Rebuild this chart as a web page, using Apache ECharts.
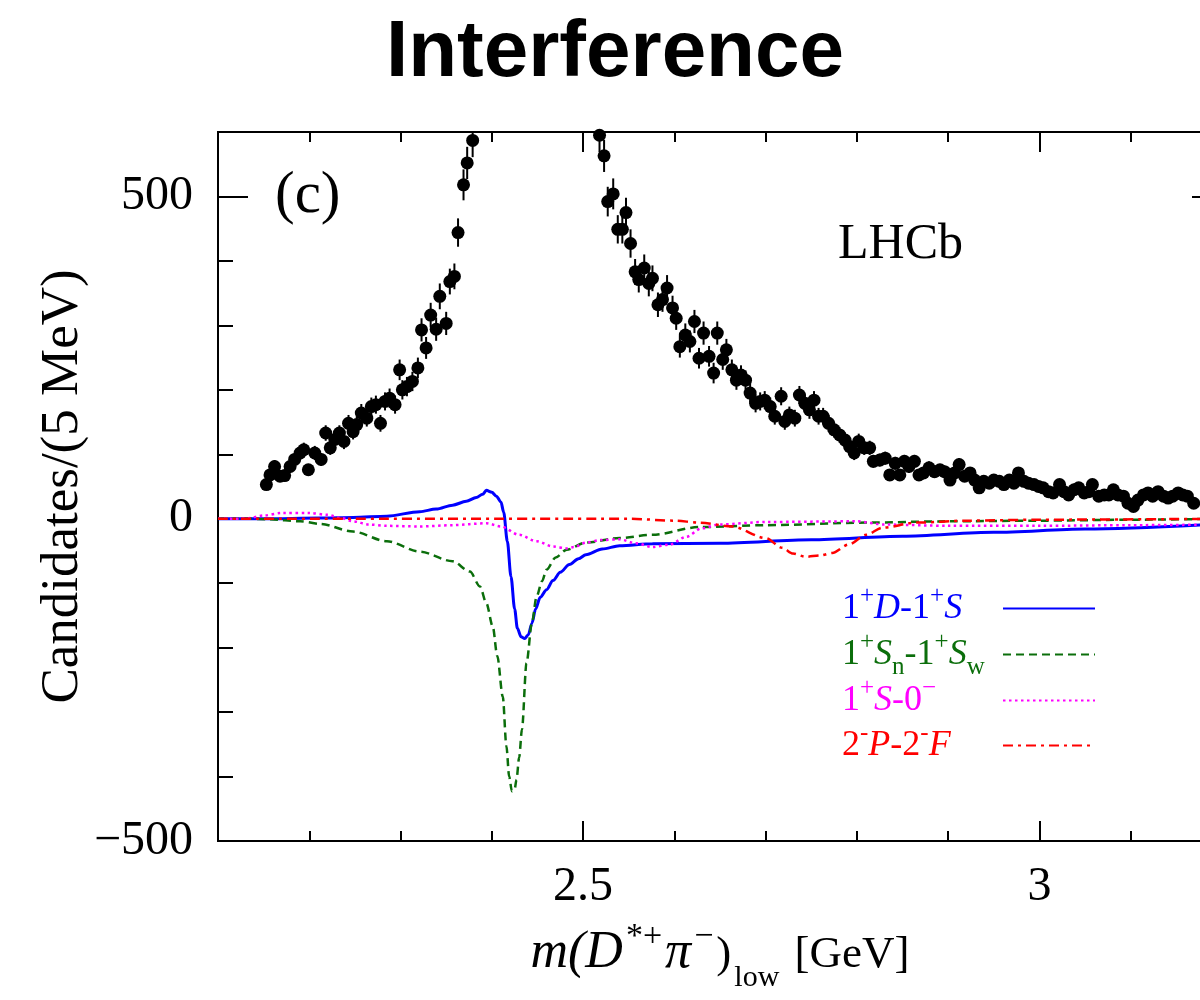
<!DOCTYPE html>
<html><head><meta charset="utf-8">
<script src="https://cdn.jsdelivr.net/npm/echarts@6/dist/echarts.min.js"></script>
<style>html,body{margin:0;padding:0;background:#fff}#c{width:1200px;height:1000px}</style>
</head><body><div id="c"></div>
<script>
// ---------- axes ----------
const xMin = 2.1, xMax = 3.2, xMinorStep = 0.1;
const xMajorTicks = [2.5, 3];
const yMin = -500, yMax = 600, yMinorStep = 100;
const yMajorTicks = [-500, 0, 500];

// ---------- data points (left of the peak) ----------
const massL = [2.153,2.157,2.162,2.168,2.173,2.179,2.184,2.190,2.194,2.199,
  2.206,2.213,2.218,2.223,2.228,2.233,2.238,2.243,2.248,2.252,
  2.257,2.263,2.268,2.273,2.278,2.283,2.288,2.294,2.299,2.302,
  2.307,2.313,2.319,2.323,2.328,2.333,2.339,2.343,2.350,2.354,
  2.359,2.363,2.369,2.373,2.379];
const countsL = [53,68,81,66,67,81,92,102,107,76,
  102,92,133,110,123,133,120,148,135,146,
  164,156,174,177,148,182,187,177,231,200,
  205,213,234,293,265,316,294,345,303,368,
  376,444,518,552,587];
const errL = [8,9,10,9,9,10,10,11,11,9,
  11,10,12,11,12,12,12,13,12,13,
  14,13,14,14,13,14,15,14,16,15,
  15,15,16,18,17,19,18,20,18,20,
  20,22,24,25,26];

// ---------- data points (right of the peak) ----------
const massR = [2.518,2.523,2.527,2.533,2.538,2.543,2.547,2.552,2.557,2.561,
  2.567,2.572,2.576,2.582,2.587,2.592,2.598,2.602,2.606,2.612,
  2.617,2.622,2.627,2.632,2.638,2.643,2.647,2.653,2.657,2.663,
  2.668,2.673,2.678,2.683,2.689,2.694,2.699,2.705,2.710,2.717,
  2.721,2.726,2.732,2.737,2.743,2.748,2.753,2.758,2.763,2.769,
  2.775,2.781,2.787,2.792,2.797,2.802,2.808,2.814,2.818,2.825,
  2.831,2.836,2.842,2.847,2.852,2.857,2.863,2.868,2.873,2.879,
  2.885,2.891,2.896,2.902,2.907,2.912,2.918,2.924,2.929,2.934,
  2.939,2.945,2.950,2.956,2.961,2.967,2.972,2.977,2.983,2.988,
  2.994,2.999,3.004,3.010,3.015,3.022,3.027,3.032,3.038,3.043,
  3.049,3.054,3.058,3.065,3.071,3.076,3.081,3.086,3.092,3.097,
  3.103,3.108,3.114,3.119,3.124,3.130,3.136,3.141,3.146,3.152,
  3.157,3.162,3.169];
const countsR = [595,563,492,504,449,449,475,427,383,371,
  389,365,373,332,340,358,327,311,267,285,
  275,306,249,288,252,226,288,247,262,231,
  215,223,215,195,179,182,184,174,159,190,
  151,161,156,192,179,169,184,159,159,148,
  138,130,122,112,102,120,110,110,89,91,
  94,68,86,68,89,81,89,68,71,79,
  73,76,73,60,71,84,66,71,60,48,
  58,55,60,58,53,60,55,71,58,55,
  53,50,48,42,40,53,42,37,45,48,
  40,42,53,35,37,37,45,37,35,24,
  19,29,37,40,35,42,35,32,35,40,
  37,35,24];
const errR = [26,25,23,24,22,22,23,22,20,20,
  21,20,20,19,19,20,19,18,17,18,
  17,18,16,18,16,16,18,16,17,16,
  15,15,15,15,14,14,14,14,13,14,
  13,13,13,14,14,14,14,13,13,13,
  12,12,12,11,11,12,11,11,10,10,
  10,9,10,9,10,10,10,9,9,10,
  9,9,9,8,9,10,9,9,8,8,
  8,8,8,8,8,8,8,9,8,8,
  8,8,8,7,7,8,7,7,7,8,
  7,7,8,7,7,7,7,7,7,6,
  5,6,7,7,7,7,7,6,7,7,
  7,7,6];

// ---------- interference curves ----------
const seriesNames = ['1+D-1+S', '1+Sn-1+Sw', '1+S-0-', '2-P-2-F'];

const massBlue = [2.10,2.15,2.212,2.248,2.285,2.321,2.339,2.357,2.372,2.383,2.390,2.394,2.400,2.405,2.410,2.413,2.417,2.421,2.425,2.428,2.432,2.436,2.440,2.444,2.448,2.453,2.460,2.467,2.475,2.485,2.495,2.503,2.521,2.540,2.576,2.65,2.75,2.85,2.95,3.05,3.20];
const valBlue  = [0,0,1,2,4,11,15,21,27,33,38,44,41,35,26,10,-35,-90,-140,-170,-183,-186,-180,-162,-140,-122,-110,-96,-83,-71,-62,-56,-47,-42,-39,-38,-32.5,-27,-21,-16,-8];

const massGreen = [2.10,2.13,2.157,2.19,2.212,2.248,2.285,2.321,2.357,2.376,2.387,2.394,2.401,2.406,2.412,2.416,2.419,2.422,2.425,2.427,2.430,2.433,2.438,2.444,2.449,2.455,2.460,2.470,2.482,2.503,2.540,2.576,2.627,2.70,2.81,2.90,3.00,3.10,3.20];
const valGreen  = [0,0,-1,-4,-8,-20,-35,-51,-66,-82,-105,-131,-167,-213,-276,-353,-400,-423,-420,-405,-370,-327,-224,-161,-121,-97,-79,-60,-48,-37,-30,-25,-13,-10,-6,-4,-3,-1.5,0];

const massMagenta = [2.10,2.13,2.15,2.17,2.20,2.22,2.235,2.248,2.265,2.285,2.32,2.357,2.394,2.41,2.43,2.449,2.467,2.482,2.49,2.503,2.52,2.54,2.558,2.576,2.595,2.613,2.63,2.649,2.70,2.80,2.83,2.90,3.00,3.10,3.20];
const valMagenta  = [0,0,5,9,9,6,1,-4,-9,-11,-12,-10,-7,-12,-25,-35,-43,-46,-44,-37,-33,-32,-38,-44,-40,-28,-15,-9,-5,-4,-9,-11,-11,-10,-9];

const massRed = [2.10,2.55,2.60,2.627,2.663,2.70,2.718,2.73,2.744,2.76,2.773,2.791,2.81,2.828,2.865,2.92,3.00,3.20];
const valRed  = [0,0,-3,-6,-12,-30,-45,-54,-59,-57,-53,-40,-25,-14,-6,-3,-1.5,0];

// ---------- styling ----------
const SERIF = '"Liberation Serif", "Times New Roman", serif';
const colBlue = '#0000ff', colGreen = '#0b6e0b', colMagenta = '#ff00ff', colRed = '#ff0000';

const zip = (a, b) => a.map((v, i) => [v, b[i]]);
const pointsData = zip(massL, countsL).concat(zip(massR, countsR));
const errData = massL.map((m, i) => [m, countsL[i], errL[i]])
  .concat(massR.map((m, i) => [m, countsR[i], errR[i]]));

function richSet(k, color) {
  const base = {color, fontFamily: SERIF, fontSize: 36, lineHeight: 60, align: 'left'};
  const o = {};
  o[k] = Object.assign({}, base);
  o[k + 'i'] = Object.assign({}, base, {fontStyle: 'italic'});
  o[k + 's'] = Object.assign({}, base, {fontSize: 25, lineHeight: 10, padding: [0, 0, 24, 0]});
  o[k + 'u'] = Object.assign({}, base, {fontSize: 25, lineHeight: 10, padding: [26, 0, 0, 0]});
  return o;
}
const legendRich = Object.assign({}, richSet('b', colBlue), richSet('g', colGreen), richSet('m', colMagenta), richSet('r', colRed));
const legendLabels = {
  '1+D-1+S': '{b|1}{bs|+}{bi|D}{b|-1}{bs|+}{bi|S}',
  '1+Sn-1+Sw': '{g|1}{gs|+}{gi|S}{gu|n}{g|-1}{gs|+}{gi|S}{gu|w}',
  '1+S-0-': '{m|1}{ms|+}{mi|S}{m|-0}{ms|\u2212}',
  '2-P-2-F': '{r|2}{rs|-}{ri|P}{r|-2}{rs|-}{ri|F}'
};

const axisLineStyle = {color: '#000', width: 2};
function xAxisDef(pos, major, withLabel) {
  const a = {
    type: 'value', min: xMin, max: xMax, position: pos,
    axisLine: {show: true, onZero: false, lineStyle: axisLineStyle},
    splitLine: {show: false},
    axisTick: {show: true, inside: true, length: major ? 20 : 10, lineStyle: {color: '#000', width: 2}},
    axisLabel: {show: false}
  };
  if (major) {
    a.axisTick.customValues = xMajorTicks;
    if (withLabel) {
      a.axisLabel = {show: true, customValues: xMajorTicks, margin: 22, color: '#000',
        fontFamily: SERIF, fontSize: 48, formatter: v => String(v)};
      a.name = '{i|m(D}{sup|*+}{i|\u03c0}{sup|\u2212}{n|)}{sub|low}{n| [GeV]}';
      a.nameLocation = 'middle';
      a.nameGap = 84;
      a.nameMoveOverlap = false;
      const common = {fontFamily: SERIF, color: '#000', lineHeight: 56};
      a.nameTextStyle = {color: '#000', fontFamily: SERIF, fontSize: 45, rich: {
        i: Object.assign({}, common, {fontSize: 52, fontStyle: 'italic'}),
        n: Object.assign({}, common, {fontSize: 45, padding: [5, 0, 0, 0], lineHeight: 10}),
        sup: Object.assign({}, common, {fontSize: 34, lineHeight: 10, padding: [0, 3, 32, 3]}),
        sub: Object.assign({}, common, {fontSize: 30, lineHeight: 10, padding: [51, 4, 0, 3]})
      }};
    }
  } else {
    a.interval = xMinorStep;
  }
  return a;
}
function yAxisDef(pos, major, withLabel) {
  const a = {
    type: 'value', min: yMin, max: yMax, position: pos,
    axisLine: {show: pos === 'left', onZero: false, lineStyle: axisLineStyle},
    splitLine: {show: false},
    axisTick: {show: true, inside: true, length: major ? 30 : 15, lineStyle: {color: '#000', width: 2}},
    axisLabel: {show: false}
  };
  if (major) {
    a.axisTick.customValues = yMajorTicks;
    if (withLabel) {
      a.axisLabel = {show: true, customValues: yMajorTicks, margin: 25, color: '#000',
        fontFamily: SERIF, fontSize: 48, formatter: v => v < 0 ? '\u2212' + Math.abs(v) : String(v)};
      a.name = 'Candidates/(5 MeV)';
      a.nameLocation = 'middle';
      a.nameGap = 128;
      a.nameMoveOverlap = false;
      a.nameRotate = 90;
      a.nameTextStyle = {color: '#000', fontFamily: SERIF, fontSize: 53};
    }
  } else {
    a.interval = yMinorStep;
  }
  return a;
}

function lineSeries(name, mass, vals, color, type, width) {
  return {
    name, type: 'line', xAxisIndex: 0, yAxisIndex: 0, data: zip(mass, vals),
    symbol: 'none', smooth: 0.3, smoothMonotone: 'x', clip: true,
    lineStyle: {color, width, type}, itemStyle: {color}, z: 3
  };
}

const chart = echarts.init(document.getElementById('c'), null, {renderer: 'canvas'});
chart.setOption({
  animation: false,
  backgroundColor: '#fff',
  title: {text: 'Interference', left: 381, top: 9,
    textStyle: {fontFamily: '"Liberation Sans", Arial, sans-serif', fontWeight: 'bold', fontSize: 80, color: '#000'}},
  grid: {left: 218, top: 132, width: 1004, height: 709, containLabel: false, outerBoundsMode: 'none'},
  xAxis: [xAxisDef('bottom', true, true), xAxisDef('bottom', false), xAxisDef('top', false), xAxisDef('top', true)],
  yAxis: [yAxisDef('left', true, true), yAxisDef('left', false), yAxisDef('right', false), yAxisDef('right', true)],
  legend: {
    orient: 'vertical', left: 842, top: 584, align: 'right', padding: 0,
    itemWidth: 92, itemHeight: 14, itemGap: -4, selectedMode: false,
    itemStyle: {opacity: 0, borderWidth: 0},
    data: seriesNames,
    formatter: n => legendLabels[n],
    textStyle: {width: 156, fontFamily: SERIF, fontSize: 36, rich: legendRich}
  },
  graphic: [
    {type: 'text', style: {text: '(c)', x: 275, y: 196, font: '59px "Liberation Serif"', fill: '#000', verticalAlign: 'middle'}},
    {type: 'text', style: {text: 'LHCb', x: 838, y: 245, font: '50px "Liberation Serif"', fill: '#000', verticalAlign: 'middle'}}
  ],
  series: [
    lineSeries(seriesNames[0], massBlue, valBlue, colBlue, 'solid', 3),
    lineSeries(seriesNames[1], massGreen, valGreen, colGreen, [8, 5], 2.5),
    lineSeries(seriesNames[2], massMagenta, valMagenta, colMagenta, [2.5, 3.5], 2.5),
    lineSeries(seriesNames[3], massRed, valRed, colRed, [10, 5, 3, 5], 2.5),
    {
      type: 'custom', name: 'errors', xAxisIndex: 0, yAxisIndex: 0, clip: true, z: 4,
      data: errData, encode: {x: 0, y: 1},
      renderItem: (params, api) => {
        const x = api.value(0), y = api.value(1), e = api.value(2);
        const p1 = api.coord([x, y - e]), p2 = api.coord([x, y + e]);
        return {type: 'line', shape: {x1: p1[0], y1: p1[1], x2: p2[0], y2: p2[1]},
          style: {stroke: '#000', lineWidth: 2}};
      }
    },
    {
      type: 'scatter', name: 'data', xAxisIndex: 0, yAxisIndex: 0, data: pointsData,
      symbol: 'circle', symbolSize: 13, itemStyle: {color: '#000', opacity: 1}, z: 5, clip: true
    }
  ]
});
</script></body></html>
